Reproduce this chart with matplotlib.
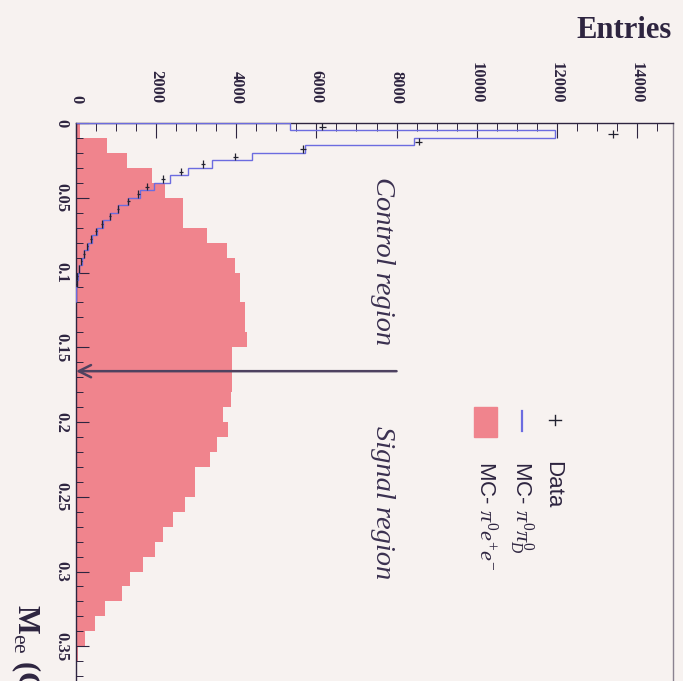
import numpy as np
import matplotlib
matplotlib.use("Agg")
import matplotlib.pyplot as plt
from matplotlib.lines import Line2D
from matplotlib.patches import Rectangle
from matplotlib.ticker import MultipleLocator, FuncFormatter

plt.rcParams['mathtext.fontset'] = 'custom'
plt.rcParams['mathtext.rm'] = 'Liberation Serif'
plt.rcParams['mathtext.it'] = 'Liberation Serif:italic'
plt.rcParams['mathtext.bf'] = 'Liberation Serif:bold'

# M_ee binning (GeV)
bw_pipi = 0.005
bw_dal = 0.01

# MC pi0 pi0_D, 0.005 GeV bins starting at 0
mc_pipi = [5350, 11950, 8425, 5725, 4400, 3400, 2800, 2350, 1950, 1600,
           1300, 1050, 850, 680, 530, 400, 300, 210, 140, 80,
           40, 15, 5, 0]
# data, same binning
data_counts = [6150, 13400, 8550, 5675, 3975, 3175, 2625, 2175, 1775, 1550,
               1300, 1050, 850, 650, 500, 380, 280, 200, 130, 75,
               35, 15]
# MC pi0 e+ e-, 0.01 GeV bins starting at 0
mc_dalitz = [100, 775, 1275, 1900, 2225, 2675, 2675, 3275, 3775, 3975,
             4100, 4100, 4225, 4225, 4275, 3900, 3900, 3900, 3875, 3675,
             3800, 3525, 3350, 2975, 2975, 2725, 2425, 2175, 1975, 1675,
             1350, 1150, 725, 475, 225, 50, 30, 10, 0, 0]

cut_mee = 0.166
entry_ticks = [0, 2000, 4000, 6000, 8000, 10000, 12000, 14000]

bg = '#f7f2f0'
ink = '#2e2540'
pink = '#f0848d'
blue = '#6c6ce0'

W, H = 683, 681
fig = plt.figure(figsize=(W / 100, H / 100), dpi=100, facecolor=bg)


def fx(px):
    return px / W


def fy(py):
    return 1 - py / H


# plot is drawn turned on its side: M_ee runs downward, entries to the right
top_px, left_px, right_px = 123, 76, 673
px_per_gev = 1495
ymax = 0.398
bottom_px = top_px + ymax * px_per_gev
ax = fig.add_axes([fx(left_px), fy(bottom_px), fx(right_px - left_px),
                   (bottom_px - top_px) / H])
ax.set_facecolor(bg)

edges_pipi = np.arange(len(mc_pipi) + 1) * bw_pipi
edges_dal = np.arange(len(mc_dalitz) + 1) * bw_dal
centers = (np.arange(len(data_counts)) + 0.5) * bw_pipi

ax.stairs(mc_dalitz, edges_dal, orientation='horizontal', fill=True,
          color=pink, zorder=1)
ax.stairs(mc_pipi, edges_pipi, orientation='horizontal', color=blue,
          lw=1.0, zorder=3)
ax.errorbar(data_counts, centers, xerr=np.sqrt(data_counts),
            yerr=bw_pipi / 2, fmt='none', ecolor='#222230', elinewidth=0.9,
            capsize=0, zorder=4)

ax.annotate('', xy=(0, cut_mee), xytext=(8000, cut_mee),
            arrowprops=dict(arrowstyle='->', lw=1.8, color='#4e4260',
                            mutation_scale=22, shrinkA=0, shrinkB=0),
            zorder=5)

ax.set_xlim(0, 14900)
ax.set_ylim(ymax, 0)

ax.xaxis.tick_top()
ax.set_xticks(entry_ticks)
ax.xaxis.set_minor_locator(MultipleLocator(500))
ax.yaxis.set_major_locator(MultipleLocator(0.05))
ax.yaxis.set_minor_locator(MultipleLocator(0.01))
ax.yaxis.set_major_formatter(FuncFormatter(lambda v, p: '%g' % round(v, 3)))

ax.tick_params(axis='x', which='both', direction='in', top=True,
               bottom=False, colors=ink)
ax.tick_params(axis='x', which='major', length=11, width=0.8, pad=14)
ax.tick_params(axis='x', which='minor', length=6, width=0.7)
ax.tick_params(axis='y', which='both', direction='in', left=True,
               right=False, colors=ink)
ax.tick_params(axis='y', which='major', length=9, width=0.8, pad=5)
ax.tick_params(axis='y', which='minor', length=5, width=0.7)

for lab in ax.get_xticklabels():
    lab.set_rotation(-90)
    lab.set_fontfamily('Liberation Serif')
    lab.set_fontweight('bold')
    lab.set_fontsize(12)
    lab.set_va('bottom')
    lab.set_ha('center')
for lab in ax.get_yticklabels():
    lab.set_rotation(-90)
    lab.set_fontfamily('Liberation Serif')
    lab.set_fontweight('bold')
    lab.set_fontsize(12)
    lab.set_va('center')
    lab.set_ha('right')

for side in ['top', 'left']:
    ax.spines[side].set_color(ink)
    ax.spines[side].set_linewidth(1.0)
ax.spines['right'].set_color('#8a8290')
ax.spines['right'].set_linewidth(1.0)
ax.spines['bottom'].set_visible(False)

# axis titles
fig.text(fx(672), fy(30), 'Entries', ha='right', va='center',
         fontfamily='Liberation Serif', fontweight='bold', fontsize=22,
         color=ink)
fig.text(fx(26), fy(604), r'M$_{\rm ee}$ (GeV)', rotation=-90, ha='center',
         va='top', fontfamily='Liberation Serif', fontweight='bold',
         fontsize=22, color=ink)

# region labels
fig.text(fx(383), fy(177), 'Control region', rotation=-90, ha='center',
         va='top', fontfamily='Liberation Serif', style='italic',
         fontsize=20.5, color='#3a3050')
fig.text(fx(383), fy(426), 'Signal region', rotation=-90, ha='center',
         va='top', fontfamily='Liberation Serif', style='italic',
         fontsize=20.5, color='#3a3050')

# legend, turned with the rest of the plot
fig.add_artist(Line2D([fx(549), fx(561)], [fy(420), fy(420)], color='#222230',
                      lw=1.0))
fig.add_artist(Line2D([fx(555), fx(555)], [fy(415), fy(425)], color='#222230',
                      lw=1.0))
fig.add_artist(Line2D([fx(522), fx(522)], [fy(411), fy(431)], color=blue,
                      lw=1.6))
fig.add_artist(Rectangle((fx(474), fy(437)), fx(23), 30 / H, color=pink))
leg_labels = ['Data', r'MC- $\pi^{0}\pi^{0}_{D}$', r'MC- $\pi^{0}e^{+}e^{-}$']
leg_x = [553, 521, 486]
for lx, txt in zip(leg_x, leg_labels):
    fig.text(fx(lx), fy(461), txt, rotation=-90, ha='center', va='top',
             fontfamily='Liberation Sans', fontsize=16, color=ink)

fig.savefig('out.png', dpi=100, facecolor=bg)
